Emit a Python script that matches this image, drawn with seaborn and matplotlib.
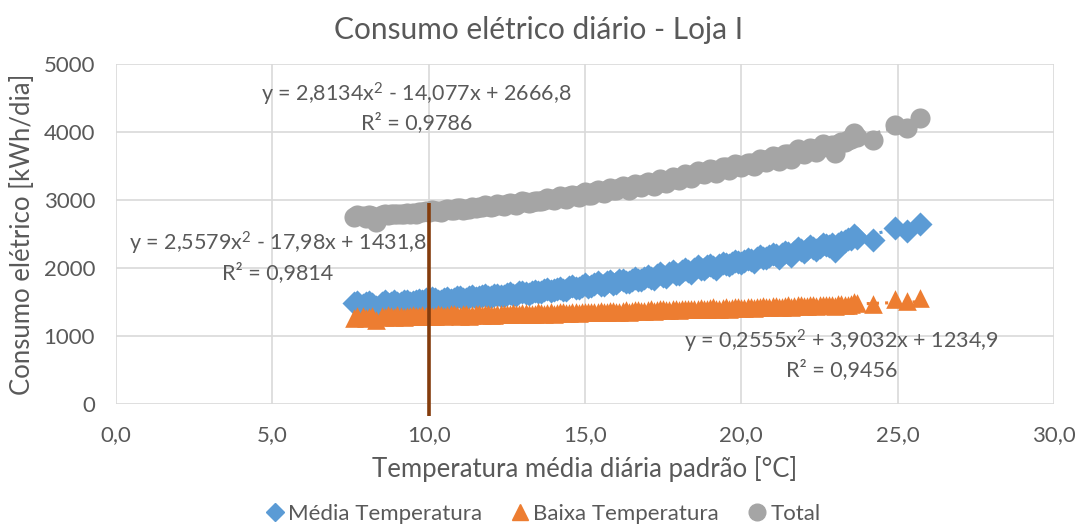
import numpy as np
import pandas as pd
import matplotlib
matplotlib.use("Agg")
import matplotlib.pyplot as plt
import seaborn as sns
from matplotlib.lines import Line2D

# ---------------- data ----------------
temp = [7.6, 7.9, 8.1, 8.3, 8.5, 8.7, 8.9, 9.1, 9.3, 9.5, 9.7, 9.9, 10.0, 10.2, 10.4,
        10.6, 10.8, 11.0, 11.2, 11.4, 11.6, 11.8, 12.0, 12.2, 12.4, 12.6, 12.8, 13.0,
        13.2, 13.4, 13.6, 13.8, 14.0, 14.2, 14.4, 14.6, 14.8, 15.0, 15.2, 15.4, 15.6,
        15.8, 16.0, 16.2, 16.4, 16.6, 16.8, 17.0, 17.2, 17.4, 17.6, 17.8, 18.0, 18.2,
        18.4, 18.6, 18.8, 19.0, 19.2, 19.4, 19.6, 19.8, 20.0, 20.2, 20.4, 20.6, 20.8,
        21.0, 21.2, 21.4, 21.6, 21.8, 22.0, 22.2, 22.4, 22.6, 22.8, 23.0, 23.2, 23.4,
        23.6, 23.7, 24.2, 24.9, 25.3, 25.7,
        7.7, 8.0, 8.2, 8.6, 8.8, 9.0, 9.2, 9.4, 9.6, 9.8, 10.1, 10.3, 10.5, 10.7, 10.9,
        11.1, 11.3, 11.5, 11.7, 11.9, 12.1, 12.3, 12.5, 12.7, 12.9, 13.1, 13.3, 13.5,
        13.7, 13.9, 14.1, 14.3, 14.5, 14.7, 14.9, 15.1, 15.3, 15.5, 15.7, 15.9, 16.1,
        16.3, 16.5, 16.7, 16.9, 17.1, 17.3, 17.5, 17.7, 17.9, 18.1, 18.3, 18.5, 18.7,
        18.9, 19.1, 19.3, 19.5, 19.7, 19.9, 20.1, 20.3, 20.5, 20.7, 20.9, 21.1, 21.3,
        21.5, 21.7, 21.9, 22.1, 22.3, 22.5, 22.7, 22.9, 23.1, 23.3, 23.5]
media = [1480, 1460, 1500, 1430, 1490, 1470, 1510, 1490, 1520, 1500, 1530, 1550, 1510,
         1540, 1520, 1560, 1540, 1580, 1550, 1590, 1570, 1600, 1580, 1610, 1590, 1630,
         1610, 1650, 1620, 1660, 1640, 1690, 1670, 1710, 1680, 1730, 1700, 1760, 1730,
         1790, 1750, 1810, 1780, 1830, 1790, 1850, 1820, 1880, 1840, 1920, 1870, 1950,
         1910, 1980, 1930, 2030, 1990, 2050, 1990, 2080, 2040, 2110, 2070, 2130, 2090,
         2170, 2140, 2200, 2150, 2230, 2180, 2300, 2240, 2320, 2270, 2360, 2330, 2250,
         2380, 2420, 2490, 2440, 2410, 2590, 2540, 2650,
         1500, 1480, 1470, 1510, 1490, 1480, 1510, 1490, 1510, 1520, 1560, 1520, 1550,
         1530, 1570, 1540, 1570, 1560, 1590, 1580, 1600, 1590, 1620, 1600, 1640, 1630,
         1650, 1640, 1670, 1660, 1690, 1680, 1720, 1700, 1740, 1720, 1770, 1750, 1790,
         1770, 1820, 1800, 1830, 1820, 1860, 1850, 1890, 1880, 1920, 1910, 1950, 1960,
         1990, 1980, 2030, 2020, 2040, 2060, 2080, 2090, 2110, 2120, 2140, 2150, 2180,
         2190, 2200, 2220, 2240, 2260, 2280, 2290, 2310, 2340, 2360, 2350, 2400, 2430]
baixa = [1270, 1300, 1280, 1240, 1290, 1310, 1280, 1300, 1290, 1310, 1300, 1290, 1320,
         1300, 1310, 1310, 1320, 1300, 1320, 1310, 1330, 1320, 1310, 1330, 1320, 1330,
         1320, 1340, 1330, 1330, 1340, 1340, 1330, 1350, 1340, 1350, 1340, 1360, 1350,
         1360, 1350, 1370, 1360, 1370, 1360, 1380, 1370, 1380, 1370, 1390, 1380, 1390,
         1380, 1400, 1390, 1400, 1390, 1410, 1400, 1410, 1400, 1420, 1410, 1420, 1410,
         1430, 1420, 1440, 1420, 1440, 1430, 1450, 1440, 1450, 1440, 1460, 1450, 1440,
         1470, 1460, 1500, 1480, 1470, 1540, 1520, 1560,
         1290, 1270, 1300, 1280, 1300, 1310, 1280, 1300, 1290, 1310, 1300, 1320, 1300,
         1320, 1310, 1320, 1300, 1320, 1310, 1330, 1310, 1330, 1320, 1340, 1320, 1340,
         1320, 1350, 1330, 1350, 1340, 1350, 1340, 1360, 1350, 1360, 1350, 1370, 1360,
         1370, 1360, 1380, 1370, 1380, 1370, 1390, 1380, 1390, 1380, 1400, 1390, 1400,
         1390, 1410, 1400, 1420, 1400, 1420, 1410, 1420, 1410, 1430, 1420, 1440, 1430,
         1440, 1430, 1450, 1440, 1450, 1440, 1460, 1450, 1460, 1450, 1470, 1460, 1470]
total = [2750, 2760, 2780, 2670, 2780, 2780, 2790, 2790, 2810, 2810, 2830, 2840, 2830,
         2840, 2830, 2870, 2860, 2880, 2870, 2900, 2900, 2920, 2890, 2940, 2910, 2960,
         2930, 2990, 2950, 2990, 2980, 3030, 3000, 3060, 3020, 3080, 3040, 3120, 3080,
         3150, 3100, 3180, 3140, 3200, 3150, 3230, 3190, 3260, 3210, 3310, 3250, 3340,
         3290, 3380, 3320, 3430, 3380, 3460, 3390, 3490, 3440, 3530, 3480, 3550, 3500,
         3600, 3560, 3640, 3570, 3670, 3610, 3750, 3680, 3770, 3710, 3820, 3780, 3690,
         3850, 3880, 3990, 3920, 3880, 4110, 4060, 4200,
         2780, 2740, 2770, 2790, 2790, 2790, 2800, 2790, 2800, 2830, 2860, 2840, 2850,
         2850, 2880, 2860, 2870, 2880, 2900, 2910, 2910, 2920, 2940, 2940, 2960, 2970,
         2970, 2990, 3000, 3010, 3030, 3030, 3060, 3060, 3090, 3080, 3120, 3120, 3150,
         3140, 3180, 3180, 3200, 3200, 3230, 3240, 3270, 3270, 3300, 3310, 3340, 3360,
         3380, 3390, 3430, 3440, 3440, 3480, 3490, 3510, 3520, 3550, 3560, 3590, 3610,
         3630, 3630, 3670, 3680, 3710, 3720, 3750, 3760, 3800, 3810, 3820, 3860, 3900]

# polynomial trendline coefficients (a, b, c) as printed on the chart
coef_media = [2.5579, -17.98, 1431.8]
coef_baixa = [0.2555, 3.9032, 1234.9]
coef_total = [2.8134, -14.077, 2666.8]

series_names = ["Média Temperatura", "Baixa Temperatura", "Total"]
eq_texts = ["y = 2,5579x$^2$ - 17,98x + 1431,8\nR² = 0,9814",
            "y = 0,2555x$^2$ + 3,9032x + 1234,9\nR² = 0,9456",
            "y = 2,8134x$^2$ - 14,077x + 2666,8\nR² = 0,9786"]
x_ticks = [0, 5, 10, 15, 20, 25, 30]
x_ticklabels = ["0,0", "5,0", "10,0", "15,0", "20,0", "25,0", "30,0"]
y_ticks = [0, 1000, 2000, 3000, 4000, 5000]
marker_line_x = 10
marker_line_top = 2950

# ---------------- style ----------------
sns.set_theme(style="white")
plt.rcParams["font.family"] = ["Lato", "DejaVu Sans"]
plt.rcParams["mathtext.fontset"] = "custom"
plt.rcParams["mathtext.rm"] = "Lato"
plt.rcParams["mathtext.it"] = "Lato"
TXT = "#595959"
c_media, c_baixa, c_total = "#5B9BD5", "#ED7D31", "#A5A5A5"

W, H = 1081, 526
fig = plt.figure(figsize=(W / 100, H / 100), dpi=100)
ax = fig.add_axes([116 / W, 1 - 404 / H, (1054 - 116) / W, (404 - 64) / H])

df = pd.DataFrame({"temp": temp, "media": media, "baixa": baixa, "total": total})

# trendlines (dotted)
xs = np.linspace(min(temp), max(temp), 200)
for coef, col in [(coef_total, c_total), (coef_media, c_media), (coef_baixa, c_baixa)]:
    ys = np.polyval(coef, xs)
    ax.plot(xs, ys, linestyle=(0, (1, 2)), color=col, linewidth=2.2, zorder=2)

sns.scatterplot(data=df, x="temp", y="media", marker="D", s=150, color=c_media,
                edgecolor=c_media, linewidth=0, ax=ax, zorder=3)
sns.scatterplot(data=df, x="temp", y="baixa", marker="^", s=180, color=c_baixa,
                edgecolor=c_baixa, linewidth=0, ax=ax, zorder=3)
sns.scatterplot(data=df, x="temp", y="total", marker="o", s=210, color=c_total,
                edgecolor=c_total, linewidth=0, ax=ax, zorder=3)

# vertical reference line
ax.plot([marker_line_x, marker_line_x], [-180, marker_line_top], color="#843C0C",
        linewidth=2.6, zorder=4, clip_on=False, solid_capstyle="butt")

ax.set_xlim(0, 30)
ax.set_ylim(0, 5000)
ax.set_xticks(x_ticks)
ax.set_xticklabels(x_ticklabels)
ax.set_yticks(y_ticks)
ax.tick_params(axis="x", labelsize=16, colors=TXT, length=0, pad=15)
ax.tick_params(axis="y", labelsize=16, colors=TXT, length=0, pad=15)
ax.grid(True, color="#D9D9D9", linewidth=1.2, zorder=0)
ax.set_axisbelow(True)
for sp in ax.spines.values():
    sp.set_visible(False)

ax.set_xlabel("Temperatura média diária padrão [°C]", fontsize=18.5, color=TXT, labelpad=8)
ax.set_ylabel("Consumo elétrico [kWh/dia]", fontsize=18.5, color=TXT, labelpad=6)
fig.text(539 / W, 1 - 30 / H, "Consumo elétrico diário - Loja I", ha="center", va="center",
         fontsize=21.5, color=TXT)

# equation labels
eq_pos = [(5.18, 2170), (23.2, 740), (9.6, 4370)]
for (ex, ey), t in zip(eq_pos, eq_texts):
    ax.text(ex, ey, t, ha="center", va="center", fontsize=15.5, color=TXT,
            linespacing=1.25, zorder=5)

handles = [Line2D([], [], marker="D", color=c_media, linestyle="none", markersize=9),
           Line2D([], [], marker="^", color=c_baixa, linestyle="none", markersize=12),
           Line2D([], [], marker="o", color=c_total, linestyle="none", markersize=12)]
fig.legend(handles, series_names, loc="center", bbox_to_anchor=(541 / W, 1 - 514 / H),
           ncol=3, frameon=False, fontsize=16, handletextpad=0.0, columnspacing=1.1,
           labelcolor=TXT, handlelength=1.2)

fig.savefig("out.png", dpi=100, facecolor="white")
